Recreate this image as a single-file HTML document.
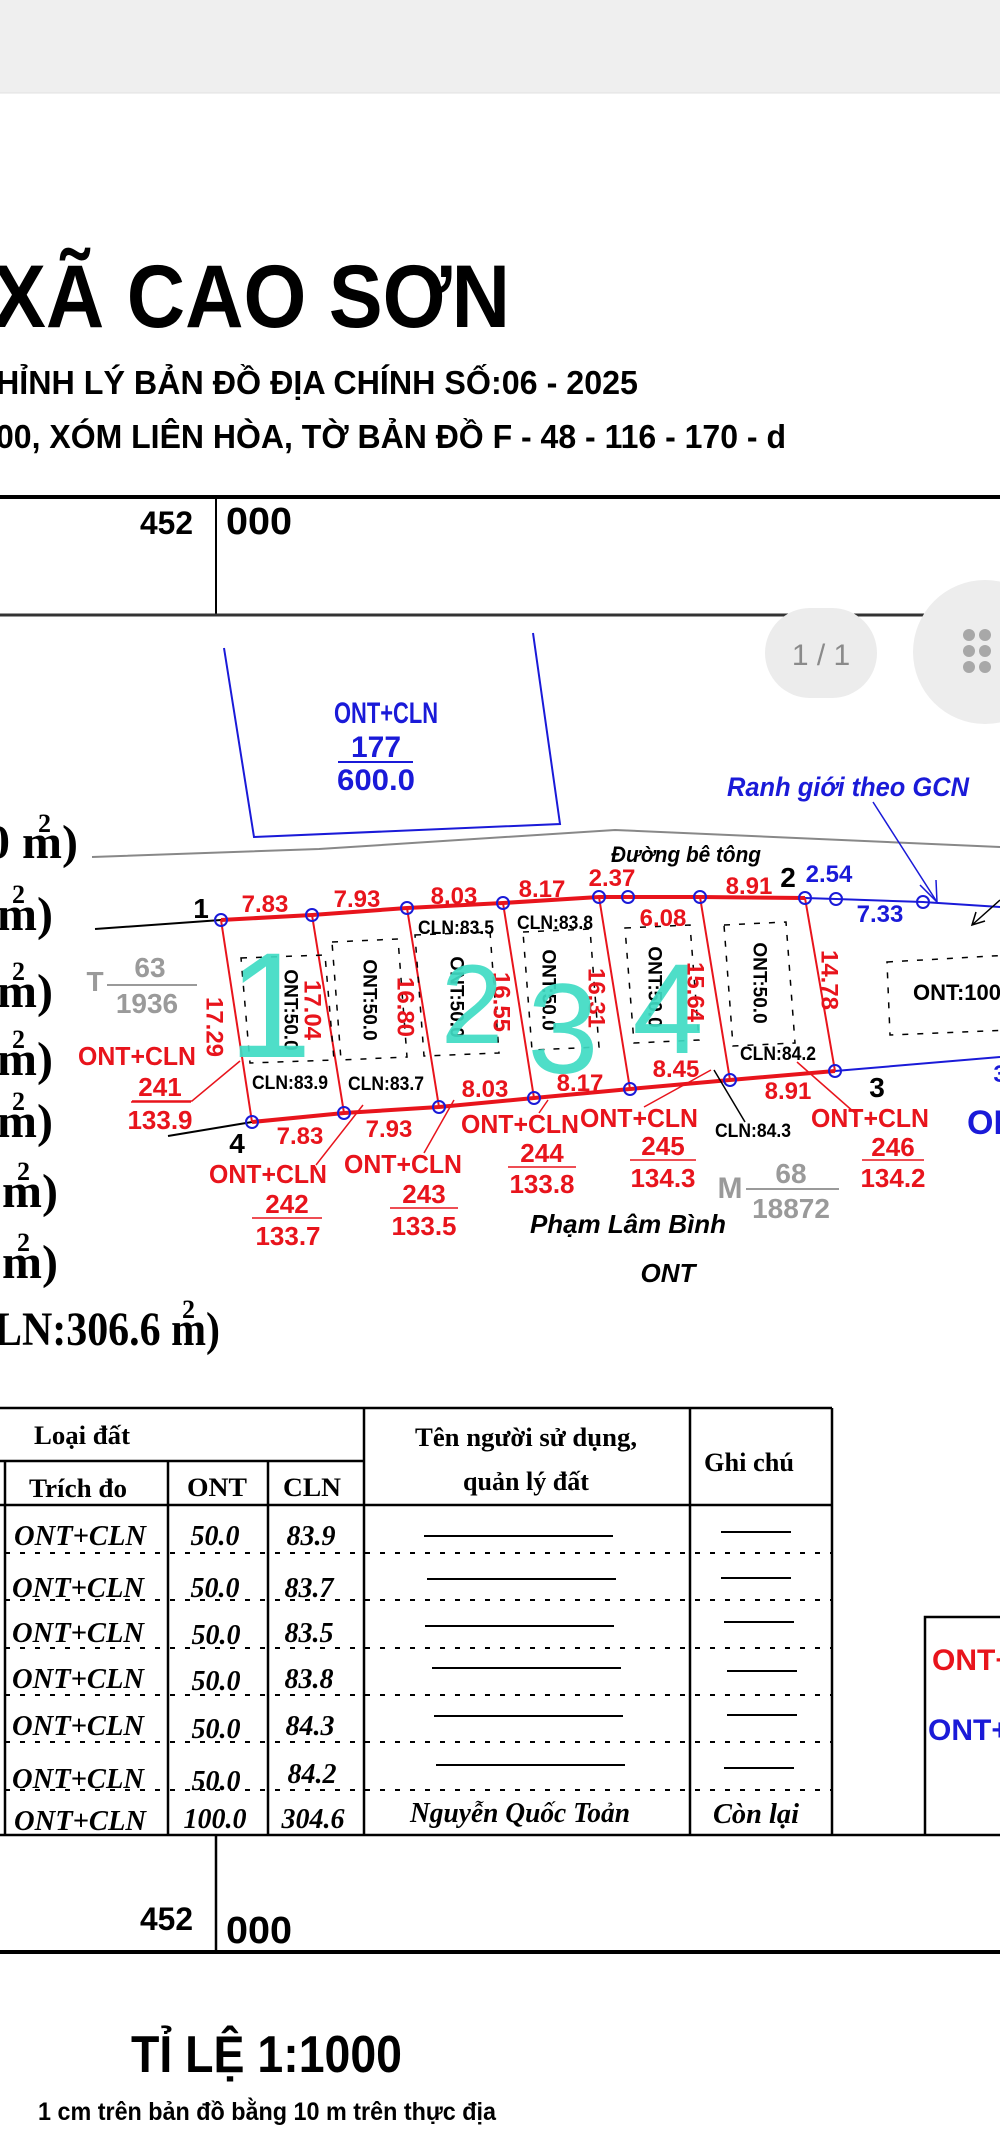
<!DOCTYPE html>
<html><head><meta charset="utf-8"><style>
html,body{margin:0;padding:0;background:#fff;}
svg{display:block;}
</style></head><body>
<svg width="1000" height="2144" viewBox="0 0 1000 2144" xmlns="http://www.w3.org/2000/svg" font-family="Liberation Sans, sans-serif">
<rect x="0" y="0" width="1000" height="2144" fill="#fff"/>
<rect x="0" y="0" width="1000" height="93" fill="#efefef"/>
<line x1="0" y1="93" x2="1000" y2="93" stroke="#e2e2e2" stroke-width="1"/>

<text x="-8" y="327" font-size="89" font-weight="bold" textLength="518" lengthAdjust="spacingAndGlyphs">XÃ CAO SƠN</text>
<text x="-4" y="394" font-size="33" font-weight="bold" textLength="642" lengthAdjust="spacingAndGlyphs">HỈNH LÝ BẢN ĐỒ ĐỊA CHÍNH SỐ:06 - 2025</text>
<text x="-4" y="448" font-size="33" font-weight="bold" textLength="790" lengthAdjust="spacingAndGlyphs">00, XÓM LIÊN HÒA, TỜ BẢN ĐỒ F - 48 - 116 - 170 - d</text>
<line x1="0" y1="497" x2="1000" y2="497" stroke="#000" stroke-width="4"/>
<line x1="216" y1="497" x2="216" y2="615" stroke="#000" stroke-width="2"/>
<line x1="0" y1="615" x2="1000" y2="615" stroke="#333" stroke-width="3"/>
<text x="140" y="534" font-size="32" font-weight="bold" textLength="53" lengthAdjust="spacingAndGlyphs">452</text>
<text x="226" y="534" font-size="38" font-weight="bold" textLength="66" lengthAdjust="spacingAndGlyphs">000</text>

<polyline points="224,648 254,837 560,824 533,633" fill="none" stroke="#1a1ad8" stroke-width="2"/>
<text x="386" y="723" font-size="30" font-weight="bold" fill="#1a1ad8" text-anchor="middle" textLength="104" lengthAdjust="spacingAndGlyphs">ONT+CLN</text>
<text x="376" y="757" font-size="30" font-weight="bold" fill="#1a1ad8" text-anchor="middle">177</text>
<line x1="338" y1="762" x2="413" y2="762" stroke="#1a1ad8" stroke-width="2"/>
<text x="376" y="790" font-size="30" font-weight="bold" fill="#1a1ad8" text-anchor="middle" textLength="78" lengthAdjust="spacingAndGlyphs">600.0</text>

<rect x="765" y="608" width="112" height="90" rx="45" fill="#ececec"/>
<text x="821" y="665" font-size="30" fill="#8a8a8a" text-anchor="middle">1 / 1</text>
<circle cx="985" cy="652" r="72" fill="#ededed"/>
<g fill="#a8a8a8"><circle cx="969" cy="635" r="6"/><circle cx="985" cy="635" r="6"/><circle cx="969" cy="651" r="6"/><circle cx="985" cy="651" r="6"/><circle cx="969" cy="667" r="6"/><circle cx="985" cy="667" r="6"/></g>

<text x="848" y="796" font-size="27" font-weight="bold" font-style="italic" fill="#1a1ad8" text-anchor="middle" textLength="242" lengthAdjust="spacingAndGlyphs">Ranh giới theo GCN</text>

<g font-family="Liberation Serif, serif" font-weight="bold" font-size="48">
<text x="-14" y="858">0 m)</text><text x="38" y="832" font-size="26">2</text>
<text x="-3" y="930">m)</text><text x="12" y="903" font-size="26">2</text>
<text x="-3" y="1007">m)</text><text x="12" y="980" font-size="26">2</text>
<text x="-3" y="1075">m)</text><text x="12" y="1048" font-size="26">2</text>
<text x="-3" y="1137">m)</text><text x="12" y="1110" font-size="26">2</text>
<text x="2" y="1207">m)</text><text x="17" y="1180" font-size="26">2</text>
<text x="2" y="1278">m)</text><text x="17" y="1251" font-size="26">2</text>
<text x="-6" y="1345" textLength="226" lengthAdjust="spacingAndGlyphs">LN:306.6 m)</text><text x="182" y="1318" font-size="26">2</text>
</g>

<polyline points="92,857 319,849 615,830 1000,847" fill="none" stroke="#888" stroke-width="2"/>
<text x="686" y="862" font-size="22" font-weight="bold" font-style="italic" text-anchor="middle" textLength="150" lengthAdjust="spacingAndGlyphs">Đường bê tông</text>

<line x1="95" y1="929" x2="221" y2="920" stroke="#000" stroke-width="2"/>
<line x1="168" y1="1136" x2="252" y2="1122" stroke="#000" stroke-width="2"/>

<polyline points="805,898 836,899 923,902 1000,907" fill="none" stroke="#1a1ad8" stroke-width="2"/>
<line x1="835" y1="1071" x2="1000" y2="1057" stroke="#1a1ad8" stroke-width="2"/>
<line x1="873" y1="802" x2="937" y2="902" stroke="#1a1ad8" stroke-width="1.5"/>
<polyline points="920,885 937,902 936,880" fill="none" stroke="#1a1ad8" stroke-width="1.5"/>
<line x1="1000" y1="900" x2="972" y2="925" stroke="#000" stroke-width="1.5"/>
<polyline points="976,912 972,925 985,921" fill="none" stroke="#000" stroke-width="1.5"/>

<polyline points="221,920 312,915 407,908 503,903 599,897 628,897 700,897 805,898" fill="none" stroke="#e8141c" stroke-width="4"/>
<polyline points="252,1122 344,1113 439,1107 534,1098 630,1089 730,1080 835,1071" fill="none" stroke="#e8141c" stroke-width="4"/>
<g stroke="#e8141c" stroke-width="2">
<line x1="221" y1="920" x2="252" y2="1122"/>
<line x1="312" y1="915" x2="344" y2="1113"/>
<line x1="407" y1="908" x2="439" y2="1107"/>
<line x1="503" y1="903" x2="534" y2="1098"/>
<line x1="599" y1="897" x2="630" y2="1089"/>
<line x1="700" y1="897" x2="730" y2="1080"/>
<line x1="805" y1="898" x2="835" y2="1071"/>
</g>

<g fill="none" stroke="#000" stroke-width="1.5" stroke-dasharray="6,9">
<polygon points="241,958 325,955 334,1060 250,1063"/>
<polygon points="332,942 398,939 407,1057 341,1060"/>
<polygon points="415,935 490,932 499,1053 424,1056"/>
<polygon points="523,932 590,929 599,1047 532,1050"/>
<polygon points="625,928 690,925 699,1040 634,1043"/>
<polygon points="724,925 786,922 795,1043 733,1046"/>
<polygon points="887,962 1010,955 1010,1030 890,1035"/>
</g>

<g fill="none" stroke="#1a1ad8" stroke-width="2">
<circle cx="221" cy="920" r="6"/><circle cx="312" cy="915" r="6"/><circle cx="407" cy="908" r="6"/><circle cx="503" cy="903" r="6"/><circle cx="599" cy="897" r="6"/><circle cx="628" cy="897" r="6"/><circle cx="700" cy="897" r="6"/><circle cx="805" cy="898" r="6"/><circle cx="836" cy="899" r="6"/><circle cx="923" cy="902" r="6"/>
<circle cx="252" cy="1122" r="6"/><circle cx="344" cy="1113" r="6"/><circle cx="439" cy="1107" r="6"/><circle cx="534" cy="1098" r="6"/><circle cx="630" cy="1089" r="6"/><circle cx="730" cy="1080" r="6"/><circle cx="835" cy="1071" r="6"/>
</g>

<g font-size="19" font-weight="bold" text-anchor="middle" dominant-baseline="central">
<text transform="translate(290,1010) rotate(90)">ONT:50.0</text>
<text transform="translate(369,1000) rotate(90)">ONT:50.0</text>
<text transform="translate(456,997) rotate(90)">ONT:50.0</text>
<text transform="translate(548,990) rotate(90)">ONT:50.0</text>
<text transform="translate(654,987) rotate(90)">ONT:50.0</text>
<text transform="translate(759,983) rotate(90)">ONT:50.0</text>
</g>
<text x="957" y="1000" font-size="22" font-weight="bold" text-anchor="middle">ONT:100</text>

<g font-size="24" font-weight="bold" fill="#e8141c" text-anchor="middle" dominant-baseline="central">
<text transform="translate(214,1027) rotate(90)">17.29</text>
<text transform="translate(312,1010) rotate(90)">17.04</text>
<text transform="translate(405,1007) rotate(90)">16.80</text>
<text transform="translate(501,1002) rotate(90)">16.55</text>
<text transform="translate(596,998) rotate(90)">16.31</text>
<text transform="translate(695,992) rotate(90)">15.64</text>
<text transform="translate(829,980) rotate(90)">14.78</text>
</g>

<g font-size="24" font-weight="bold" fill="#e8141c" text-anchor="middle">
<text x="265" y="912">7.83</text><text x="357" y="907">7.93</text><text x="454" y="904">8.03</text><text x="542" y="897">8.17</text><text x="612" y="886">2.37</text><text x="749" y="894">8.91</text>
<text x="663" y="926">6.08</text>
<text x="485" y="1097">8.03</text><text x="580" y="1091">8.17</text><text x="676" y="1077">8.45</text><text x="788" y="1099">8.91</text>
<text x="300" y="1144">7.83</text><text x="389" y="1137">7.93</text>
</g>
<g font-size="24" font-weight="bold" fill="#1a1ad8" text-anchor="middle">
<text x="829" y="882">2.54</text><text x="880" y="922">7.33</text>
<text x="1000" y="1082">3</text>
<text x="985" y="1134" font-size="34">OI</text>
</g>
<g font-size="28" font-weight="bold" text-anchor="middle">
<text x="201" y="918">1</text><text x="788" y="887">2</text><text x="877" y="1097">3</text><text x="237" y="1153">4</text>
</g>

<g font-size="19" font-weight="bold" text-anchor="middle">
<text x="456" y="934" textLength="76" lengthAdjust="spacingAndGlyphs">CLN:83.5</text>
<text x="555" y="929" textLength="76" lengthAdjust="spacingAndGlyphs">CLN:83.8</text>
<text x="778" y="1060" textLength="76" lengthAdjust="spacingAndGlyphs">CLN:84.2</text>
<text x="290" y="1089" textLength="76" lengthAdjust="spacingAndGlyphs">CLN:83.9</text>
<text x="386" y="1090" textLength="76" lengthAdjust="spacingAndGlyphs">CLN:83.7</text>
<text x="753" y="1137" textLength="76" lengthAdjust="spacingAndGlyphs">CLN:84.3</text>
</g>
<line x1="745" y1="1122" x2="714" y2="1070" stroke="#000" stroke-width="1.5"/>

<g fill="#3fdcc4" font-family="Liberation Sans, sans-serif" text-anchor="middle" opacity="0.92">
<text x="270" y="1057" font-size="150">1</text>
<text x="472" y="1043" font-size="112">2</text>
<text x="563" y="1073" font-size="128">3</text>
<text x="668" y="1053" font-size="128">4</text>
</g>

<g stroke="#e8141c" stroke-width="1.5" fill="none">
<polyline points="132,1101 192,1101 240,1061"/>
<polyline points="316,1165 363,1105"/>
<polyline points="424,1153 454,1100"/>
<polyline points="539,1113 548,1100"/>
<polyline points="644,1107 711,1070"/>
<polyline points="855,1113 797,1062"/>
<line x1="131" y1="1102" x2="191" y2="1102"/><line x1="252" y1="1218" x2="322" y2="1218"/><line x1="390" y1="1208" x2="458" y2="1208"/><line x1="508" y1="1167" x2="576" y2="1167"/><line x1="630" y1="1160" x2="696" y2="1160"/><line x1="862" y1="1160" x2="924" y2="1160"/>
</g>
<g font-size="26" font-weight="bold" fill="#e8141c" text-anchor="middle">
<text x="137" y="1065" textLength="118" lengthAdjust="spacingAndGlyphs">ONT+CLN</text><text x="160" y="1096">241</text><text x="160" y="1129">133.9</text>
<text x="268" y="1183" textLength="118" lengthAdjust="spacingAndGlyphs">ONT+CLN</text><text x="287" y="1213">242</text><text x="288" y="1245">133.7</text>
<text x="403" y="1173" textLength="118" lengthAdjust="spacingAndGlyphs">ONT+CLN</text><text x="424" y="1203">243</text><text x="424" y="1235">133.5</text>
<text x="520" y="1133" textLength="118" lengthAdjust="spacingAndGlyphs">ONT+CLN</text><text x="542" y="1162">244</text><text x="542" y="1193">133.8</text>
<text x="639" y="1127" textLength="118" lengthAdjust="spacingAndGlyphs">ONT+CLN</text><text x="663" y="1155">245</text><text x="663" y="1187">134.3</text>
<text x="870" y="1127" textLength="118" lengthAdjust="spacingAndGlyphs">ONT+CLN</text><text x="893" y="1156">246</text><text x="893" y="1187">134.2</text>
</g>

<g font-size="28" font-weight="bold" fill="#9a9a9a" text-anchor="middle">
<text x="95" y="991">T</text><text x="150" y="977">63</text><text x="147" y="1013">1936</text>
<text x="730" y="1198" font-size="30">M</text><text x="791" y="1183">68</text><text x="791" y="1218">18872</text>
</g>
<line x1="107" y1="985" x2="197" y2="985" stroke="#9a9a9a" stroke-width="2"/>
<line x1="746" y1="1189" x2="839" y2="1189" stroke="#9a9a9a" stroke-width="2"/>

<text x="628" y="1233" font-size="26" font-weight="bold" font-style="italic" text-anchor="middle" textLength="196" lengthAdjust="spacingAndGlyphs">Phạm Lâm Bình</text>
<text x="668" y="1282" font-size="26" font-weight="bold" font-style="italic" text-anchor="middle">ONT</text>

<g stroke="#000" stroke-width="2.5" fill="none">
<line x1="0" y1="1408" x2="832" y2="1408"/>
<line x1="0" y1="1461" x2="364" y2="1461"/>
<line x1="0" y1="1505" x2="832" y2="1505"/>
<line x1="0" y1="1835" x2="1000" y2="1835"/>
<line x1="5" y1="1461" x2="5" y2="1835"/>
<line x1="168" y1="1461" x2="168" y2="1835"/>
<line x1="268" y1="1461" x2="268" y2="1835"/>
<line x1="364" y1="1408" x2="364" y2="1835"/>
<line x1="690" y1="1408" x2="690" y2="1835"/>
<line x1="832" y1="1408" x2="832" y2="1835"/>
<polyline points="925,1835 925,1617 1000,1617"/>
<line x1="216" y1="1835" x2="216" y2="1952"/>
<line x1="0" y1="1952" x2="1000" y2="1952" stroke-width="4"/>
</g>
<g stroke="#000" stroke-width="2" stroke-dasharray="5,10">
<line x1="5" y1="1553" x2="832" y2="1553"/><line x1="5" y1="1600" x2="832" y2="1600"/><line x1="5" y1="1648" x2="832" y2="1648"/><line x1="5" y1="1695" x2="832" y2="1695"/><line x1="5" y1="1742" x2="832" y2="1742"/><line x1="5" y1="1790" x2="832" y2="1790"/>
</g>
<g stroke="#000" stroke-width="2">
<line x1="424" y1="1536" x2="613" y2="1536"/><line x1="427" y1="1579" x2="616" y2="1579"/><line x1="425" y1="1626" x2="614" y2="1626"/><line x1="432" y1="1668" x2="621" y2="1668"/><line x1="434" y1="1716" x2="623" y2="1716"/><line x1="436" y1="1765" x2="625" y2="1765"/>
<line x1="721" y1="1532" x2="791" y2="1532"/><line x1="721" y1="1578" x2="791" y2="1578"/><line x1="724" y1="1622" x2="794" y2="1622"/><line x1="727" y1="1671" x2="797" y2="1671"/><line x1="727" y1="1715" x2="797" y2="1715"/><line x1="724" y1="1768" x2="794" y2="1768"/>
</g>
<g font-family="Liberation Serif, serif" font-weight="bold" font-size="26" text-anchor="middle">
<text x="82" y="1444" textLength="96" lengthAdjust="spacingAndGlyphs">Loại đất</text>
<text x="78" y="1497" textLength="98" lengthAdjust="spacingAndGlyphs">Trích đo</text>
<text x="217" y="1496" textLength="60" lengthAdjust="spacingAndGlyphs">ONT</text>
<text x="312" y="1496" textLength="58" lengthAdjust="spacingAndGlyphs">CLN</text>
<text x="526" y="1446" textLength="222" lengthAdjust="spacingAndGlyphs">Tên người sử dụng,</text>
<text x="526" y="1490" textLength="126" lengthAdjust="spacingAndGlyphs">quản lý đất</text>
<text x="749" y="1471" textLength="90" lengthAdjust="spacingAndGlyphs">Ghi chú</text>
</g>
<g font-family="Liberation Serif, serif" font-weight="bold" font-style="italic" font-size="28" text-anchor="middle">
<text x="80" y="1545" textLength="132" lengthAdjust="spacingAndGlyphs">ONT+CLN</text><text x="215" y="1545">50.0</text><text x="311" y="1545">83.9</text>
<text x="78" y="1597" textLength="132" lengthAdjust="spacingAndGlyphs">ONT+CLN</text><text x="215" y="1597">50.0</text><text x="309" y="1597">83.7</text>
<text x="78" y="1642" textLength="132" lengthAdjust="spacingAndGlyphs">ONT+CLN</text><text x="216" y="1644">50.0</text><text x="309" y="1642">83.5</text>
<text x="78" y="1688" textLength="132" lengthAdjust="spacingAndGlyphs">ONT+CLN</text><text x="216" y="1690">50.0</text><text x="309" y="1688">83.8</text>
<text x="78" y="1735" textLength="132" lengthAdjust="spacingAndGlyphs">ONT+CLN</text><text x="216" y="1738">50.0</text><text x="310" y="1735">84.3</text>
<text x="78" y="1788" textLength="132" lengthAdjust="spacingAndGlyphs">ONT+CLN</text><text x="216" y="1790">50.0</text><text x="312" y="1783">84.2</text>
<text x="80" y="1830" textLength="132" lengthAdjust="spacingAndGlyphs">ONT+CLN</text><text x="215" y="1828">100.0</text><text x="313" y="1828">304.6</text>
<text x="520" y="1822" textLength="220" lengthAdjust="spacingAndGlyphs">Nguyễn Quốc Toản</text>
<text x="756" y="1823" textLength="86" lengthAdjust="spacingAndGlyphs">Còn lại</text>
</g>
<text x="932" y="1670" font-size="30" font-weight="bold" fill="#e8141c">ONT+</text>
<text x="928" y="1740" font-size="30" font-weight="bold" fill="#1a1ad8">ONT+</text>

<text x="140" y="1930" font-size="32" font-weight="bold" textLength="53" lengthAdjust="spacingAndGlyphs">452</text>
<text x="226" y="1943" font-size="38" font-weight="bold" textLength="66" lengthAdjust="spacingAndGlyphs">000</text>
<text x="131" y="2072" font-size="52" font-weight="bold" textLength="271" lengthAdjust="spacingAndGlyphs">TỈ LỆ 1:1000</text>
<text x="38" y="2120" font-size="25" font-weight="bold" textLength="458" lengthAdjust="spacingAndGlyphs">1 cm trên bản đồ bằng 10 m trên thực địa</text>
</svg>
</body></html>
